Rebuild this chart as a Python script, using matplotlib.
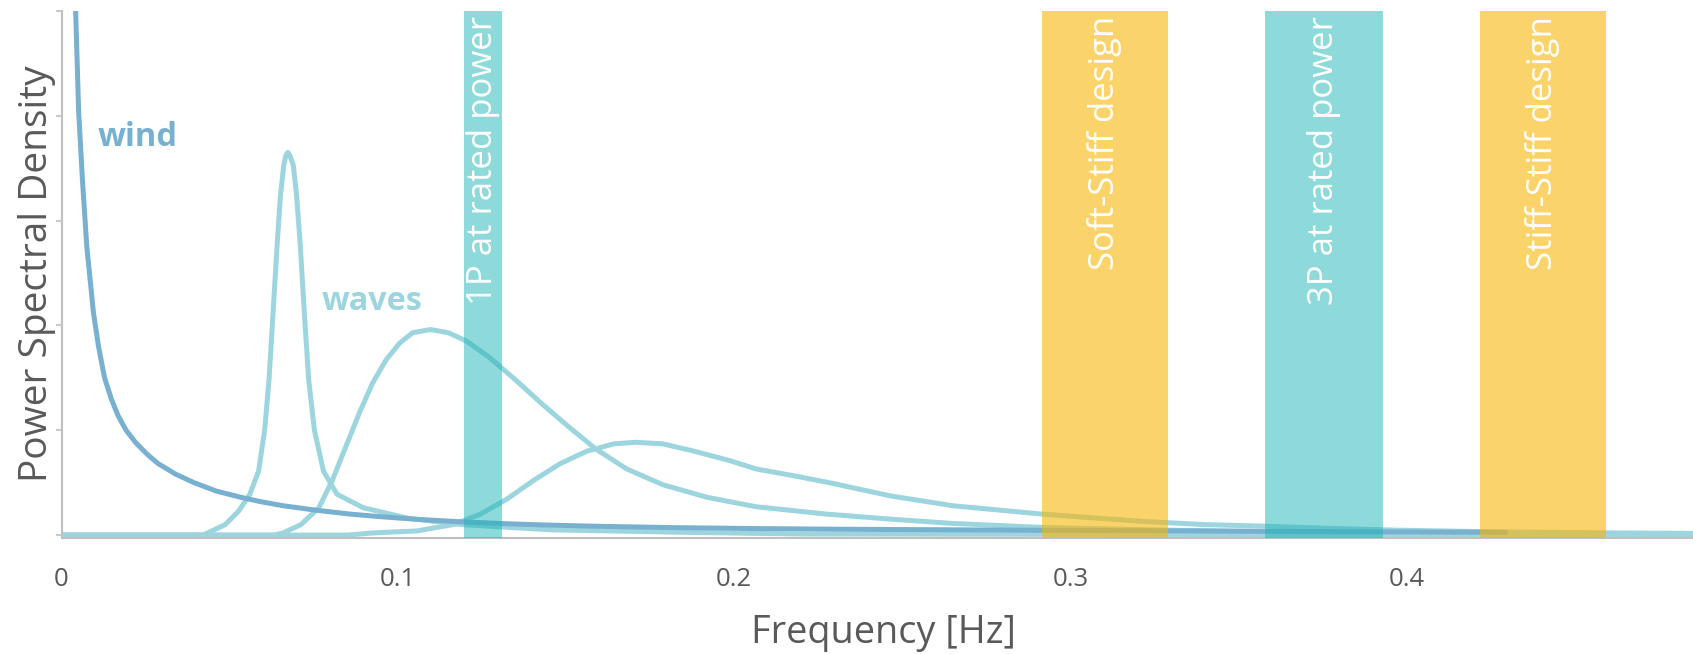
import matplotlib
matplotlib.use("Agg")
import matplotlib.pyplot as plt

plt.rcParams['font.family'] = ['Open Sans', 'DejaVu Sans']

# wind spectrum
wind_f = [0.0030, 0.0042, 0.0051, 0.0062, 0.0075, 0.0095, 0.0110, 0.0128, 0.0148, 0.0168,
          0.0192, 0.0221, 0.0255, 0.0288, 0.0340, 0.0394, 0.0460, 0.0527, 0.0590, 0.0659,
          0.0750, 0.0858, 0.0950, 0.1058, 0.1190, 0.1323, 0.1450, 0.1590, 0.1800, 0.2067,
          0.2300, 0.2600, 0.2916, 0.3300, 0.3700, 0.4000, 0.4300]
wind_p = [6.3, 5.0, 4.04, 3.40, 2.76, 2.12, 1.80, 1.50, 1.30, 1.14,
          1.00, 0.88, 0.77, 0.68, 0.58, 0.50, 0.42, 0.365, 0.32, 0.28,
          0.24, 0.20, 0.175, 0.150, 0.126, 0.108, 0.095, 0.084, 0.072, 0.062,
          0.056, 0.051, 0.046, 0.040, 0.034, 0.030, 0.026]

# narrow swell peak
swell_f = [0.0, 0.0420, 0.0434, 0.0487, 0.0527, 0.0560, 0.0586, 0.0604, 0.0617, 0.0629,
           0.0641, 0.0651, 0.0661, 0.0667, 0.0673, 0.0679, 0.0689, 0.0699, 0.0710, 0.0722,
           0.0735, 0.0752, 0.0779, 0.0819, 0.0898, 0.1031, 0.1190, 0.1456, 0.1854, 0.2200,
           0.4851]
swell_p = [0.0, 0.0, 0.02, 0.10, 0.23, 0.39, 0.61, 1.00, 1.48, 2.12,
           2.76, 3.24, 3.53, 3.62, 3.65, 3.62, 3.53, 3.24, 2.76, 2.12,
           1.48, 1.00, 0.61, 0.39, 0.26, 0.16, 0.10, 0.05, 0.026, 0.01,
           0.0]

# wind sea, peak ~0.11 Hz
sea1_f = [0.0, 0.0630, 0.0659, 0.0712, 0.0765, 0.0805, 0.0845, 0.0885, 0.0925, 0.0965,
          0.1005, 0.1044, 0.1097, 0.1150, 0.1204, 0.1270, 0.1350, 0.1429, 0.1509, 0.1589,
          0.1681, 0.1788, 0.1920, 0.2066, 0.2275, 0.2464, 0.2650, 0.2916, 0.3216, 0.3590,
          0.4000, 0.4500, 0.4851]
sea1_p = [0.0, 0.0, 0.02, 0.10, 0.26, 0.52, 0.84, 1.16, 1.45, 1.67,
          1.83, 1.93, 1.96, 1.93, 1.85, 1.70, 1.48, 1.25, 1.03, 0.82,
          0.63, 0.48, 0.36, 0.27, 0.20, 0.152, 0.111, 0.073, 0.051, 0.032,
          0.020, 0.012, 0.008]

# wind sea, peak ~0.17 Hz
sea2_f = [0.0, 0.0850, 0.0925, 0.1058, 0.1164, 0.1243, 0.1323, 0.1403, 0.1482, 0.1562,
          0.1642, 0.1708, 0.1788, 0.1881, 0.1987, 0.2066, 0.2170, 0.2275, 0.2464, 0.2652,
          0.2916, 0.3216, 0.3400, 0.3594, 0.3780, 0.3970, 0.4150, 0.4346, 0.4600, 0.4851]
sea2_p = [0.0, 0.0, 0.02, 0.04, 0.10, 0.196, 0.34, 0.52, 0.68, 0.80,
          0.87, 0.885, 0.87, 0.80, 0.71, 0.63, 0.57, 0.505, 0.374, 0.279,
          0.20, 0.13, 0.10, 0.083, 0.063, 0.047, 0.037, 0.028, 0.021, 0.016]

# frequency bands
band_lo = [0.1197, 0.2915, 0.3578, 0.4217]
band_hi = [0.1310, 0.3290, 0.3929, 0.4591]
band_txt = ['1P at rated power', 'Soft-Stiff design', '3P at rated power', 'Stiff-Stiff design']
band_col = ['#1FB5B7', '#F8B607', '#1FB5B7', '#F8B607']
band_alpha = [0.5, 0.6, 0.5, 0.6]

xticks = [0, 0.1, 0.2, 0.3, 0.4]
xtick_labels = ['0', '0.1', '0.2', '0.3', '0.4']

wind_c = '#78B0D0'
wave_c = '#9DD5DE'
grey = '#595959'

fig = plt.figure(figsize=(16.93, 6.54), dpi=100)
ax = fig.add_axes([0.03633, 0.17783, 0.96367, 0.80566])

for f, p in [(swell_f, swell_p), (sea1_f, sea1_p), (sea2_f, sea2_p)]:
    ax.plot(f, p, color=wave_c, lw=3.6, solid_capstyle='butt',
            solid_joinstyle='round', zorder=2)
ax.plot(wind_f, wind_p, color=wind_c, lw=3.6, solid_capstyle='butt',
        solid_joinstyle='round', zorder=2.5)

for lo, hi, txt, c, a in zip(band_lo, band_hi, band_txt, band_col, band_alpha):
    ax.axvspan(lo, hi, color=c, alpha=a, lw=0, zorder=3)
    ax.text((lo + hi) / 2, 4.95, txt, rotation=90, ha='center', va='top',
            color='white', fontsize=25, zorder=4)

ax.text(0.0108, 3.713, 'wind', color=wind_c, fontsize=23.5,
        fontweight='bold', ha='left', va='baseline')
ax.text(0.0773, 2.15, 'waves', color=wave_c, fontsize=23.3,
        fontweight='bold', ha='left', va='baseline')

ax.set_xlim(0, 0.4851)
ax.set_ylim(-0.025, 5)
ax.set_xticks(xticks)
ax.set_xticklabels(xtick_labels)
ax.set_yticks([0, 1, 2, 3, 4, 5])
ax.set_yticklabels([])
ax.tick_params(axis='x', length=0, pad=21, labelsize=18.5, labelcolor=grey)
ax.tick_params(axis='y', length=4, width=1.2, color='#BFBFBF', direction='out')

for s in ['top', 'right']:
    ax.spines[s].set_visible(False)
for s in ['left', 'bottom']:
    ax.spines[s].set_color('#BFBFBF')
    ax.spines[s].set_linewidth(1.5)

ax.set_xlabel('Frequency [Hz]', fontsize=27.3, color=grey, va='center')
ax.xaxis.set_label_coords(0.504, -0.18)
ax.set_ylabel('Power Spectral Density', fontsize=28, color=grey, va='center')
ax.yaxis.set_label_coords(-0.0152, 0.501)

fig.savefig('out.png', dpi=100)
